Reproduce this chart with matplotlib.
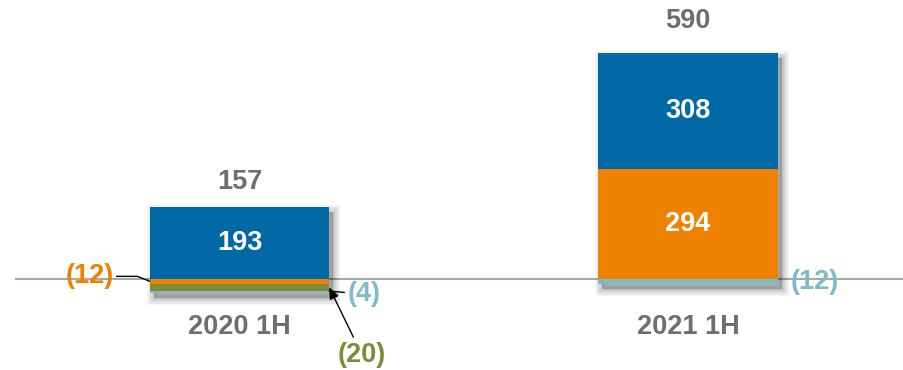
import matplotlib.pyplot as plt
import matplotlib.transforms as mtransforms
import numpy as np

plt.rcParams['font.family'] = ['Liberation Sans', 'DejaVu Sans']

categories = ['2020 1H', '2021 1H']
orange = [-12, 294]
blue = [193, 308]
green = [-20, 0]
lightblue = [-4, -12]
totals = [157, 590]

series = [orange, blue, green, lightblue]
colors = ['#EE8100', '#0068A4', '#7F8B39', '#7CBBC7']
gray_text = '#6E6E6E'

x = np.arange(len(categories))
width = 0.4

fig = plt.figure(figsize=(9.04, 3.7), dpi=100)
ax = fig.add_axes([15 / 904, 0, 1 - 15 / 904, 1])
ax.set_xlim(-0.5006, 1.4816)
ax.set_ylim(-242, 743)
ax.axis('off')

ax.axhline(0, color='#A8A8A8', lw=1.5, zorder=0)

# positive and negative stacks
pos = np.array([sum(v for v in col if v > 0) for col in zip(*series)])
neg = np.array([sum(v for v in col if v < 0) for col in zip(*series)])

# soft drop shadow behind each whole bar
shift = mtransforms.ScaledTranslation(4 / 100, -5 / 100, fig.dpi_scale_trans)
for lw in [10, 8, 6, 4, 2, 0]:
    ax.bar(x, pos - neg, width, bottom=neg, color='#000000', alpha=0.045,
           edgecolor='#000000', linewidth=lw, zorder=1,
           transform=ax.transData + shift)

pos_base = np.zeros(len(x))
neg_base = np.zeros(len(x))
segments = []
for vals, c in zip(series, colors):
    vals = np.array(vals, dtype=float)
    bottom = np.where(vals >= 0, pos_base, neg_base)
    ax.bar(x, vals, width, bottom=bottom, color=c, zorder=2)
    segments.append(bottom + vals / 2)
    pos_base += np.where(vals > 0, vals, 0)
    neg_base += np.where(vals < 0, vals, 0)

bold = dict(fontsize=19.5, fontweight='bold')

# big positive segments labelled inside
for s, vals in enumerate(series):
    for i, v in enumerate(vals):
        if v > 100:
            ax.text(x[i], segments[s][i], f'{v}', color='white', ha='center',
                    va='center', zorder=3, **bold)

# totals above the bars
for i, t in enumerate(totals):
    ax.annotate(f'{t}', (x[i], pos[i]), xytext=(0, 25 + 7 * i),
                textcoords='offset pixels', ha='center', va='center',
                color=gray_text, **bold)

# category labels
for i, c in enumerate(categories):
    ax.annotate(c, (x[i], 0), xytext=(0, -48), textcoords='offset pixels',
                ha='center', va='center', color=gray_text, **bold)

left = x - width / 2
right = x + width / 2

# 2020 negatives
ax.annotate(f'({-orange[0]})', (left[0], segments[0][0]), xytext=(-36, 5),
            textcoords='offset pixels', ha='right', va='center',
            color=colors[0], **bold,
            arrowprops=dict(arrowstyle='-', color='black', lw=1,
                            shrinkA=0, shrinkB=0,
                            connectionstyle='angle,angleA=0,angleB=-22,rad=0'))
ax.annotate(f'({-lightblue[0]})', (right[0], segments[3][0] + 2), xytext=(18, -3),
            textcoords='offset pixels', ha='left', va='center',
            color=colors[3], **bold,
            arrowprops=dict(arrowstyle='-', color='black', lw=1,
                            shrinkA=0, shrinkB=0))
ax.annotate(f'({-green[0]})', (right[0], segments[2][0]), xytext=(33, -68),
            textcoords='offset pixels', ha='center', va='center',
            color=colors[2], **bold,
            arrowprops=dict(arrowstyle='-|>,head_length=0.35,head_width=0.15',
                            color='black', lw=1, shrinkA=2, shrinkB=0))

# 2021 negative
ax.annotate(f'({-lightblue[1]})', (right[1], segments[3][1]), xytext=(13, -1),
            textcoords='offset pixels', ha='left', va='center',
            color=colors[3], **bold)

fig.savefig('out.png', dpi=100)
